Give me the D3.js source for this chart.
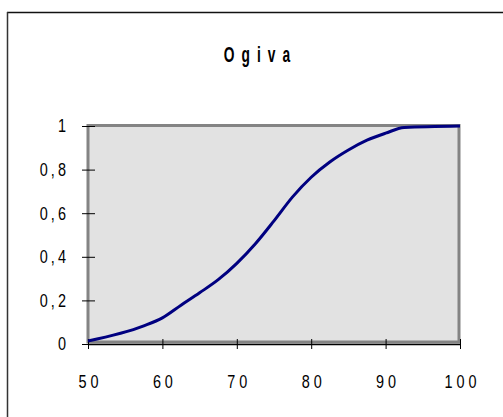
<!DOCTYPE html>
<html>
<head>
<meta charset="utf-8">
<script src="https://cdn.jsdelivr.net/npm/d3@7"></script>
<style>
  body { margin: 0; background: #fff; }
  svg text { font-family: "Liberation Sans", Arial, sans-serif; fill: #000; }
</style>
</head>
<body>
<div id="chart"></div>
<script>
// Chart data (ogive - cumulative relative frequency)
var xValues = [50, 57.5, 60, 62.5, 65, 67.5, 70, 72.5, 75, 77.5, 80, 82.5, 85, 87.5, 90, 92.5, 100];
var yValues = [0.014, 0.083, 0.12, 0.178, 0.235, 0.295, 0.37, 0.46, 0.565, 0.675, 0.765, 0.835, 0.89, 0.935, 0.967, 0.993, 1.0];
var xTicks = [50, 60, 70, 80, 90, 100];
var yTicks = [0, 0.2, 0.4, 0.6, 0.8, 1];
var yTickLabels = ["0", "0,2", "0,4", "0,6", "0,8", "1"];
var chartTitle = "Ogiva";

var svgWidth = 503;
var svgHeight = 417;

// horizontal squeeze for the narrow look of the labels
var labelSqueeze = 0.78;
var titleSqueeze = 0.64;

var svg = d3.select("#chart")
  .append("svg")
  .attr("width", svgWidth)
  .attr("height", svgHeight);

// Outer chart frame (only top and left edges visible)
svg.append("line")
  .attr("x1", 7).attr("y1", 12.5).attr("x2", svgWidth).attr("y2", 12.5)
  .attr("stroke", "#111").attr("stroke-width", 1.5);
svg.append("line")
  .attr("x1", 7.5).attr("y1", 12).attr("x2", 7.5).attr("y2", svgHeight)
  .attr("stroke", "#333").attr("stroke-width", 1.5);

// Scales
var xScale = d3.scaleLinear()
  .domain([50, 100])
  .range([88, 460]);

var yScale = d3.scaleLinear()
  .domain([0, 1])
  .range([344, 126]);

// Plot area
svg.append("rect")
  .attr("x", xScale(50))
  .attr("y", yScale(1) - 0.5)
  .attr("width", xScale(100) - xScale(50) - 1)
  .attr("height", yScale(0) - yScale(1) - 1.5)
  .attr("fill", "#e2e2e2")
  .attr("stroke", "#848484")
  .attr("stroke-width", 3);

// X axis
var bottomAxis = d3.axisBottom(xScale)
  .tickValues(xTicks)
  .tickSize(5)
  .tickSizeOuter(0)
  .tickPadding(26)
  .tickFormat(d3.format("d"));

var xAxis = svg.append("g")
  .attr("transform", `translate(0, ${yScale(0)})`)
  .call(bottomAxis);

xAxis.select(".domain").attr("stroke", "#000").attr("stroke-width", 1.5);
xAxis.selectAll(".tick line")
  .attr("y1", -5)
  .attr("y2", 5)
  .attr("stroke", "#000");
xAxis.selectAll(".tick text")
  .attr("font-size", "18.5px")
  .style("letter-spacing", "5px")
  .attr("x", 2.5)
  .attr("transform", `scale(${labelSqueeze}, 1)`);

// Y axis
var leftAxis = d3.axisLeft(yScale)
  .tickValues(yTicks)
  .tickSize(6)
  .tickSizeOuter(0)
  .tickPadding(16)
  .tickFormat(function(d, i) { return yTickLabels[i]; });

var yAxis = svg.append("g")
  .attr("transform", `translate(${xScale(50)}, 0)`)
  .call(leftAxis);

yAxis.select(".domain").remove();
yAxis.selectAll(".tick line")
  .attr("x1", -6)
  .attr("x2", 7)
  .attr("stroke", "#000");
yAxis.selectAll(".tick text")
  .attr("font-size", "18.5px")
  .style("letter-spacing", "4px")
  .attr("x", (-22 + 4 * labelSqueeze) / labelSqueeze)
  .attr("transform", `scale(${labelSqueeze}, 1)`);

// Ogive line
var line = d3.line()
  .x(function(d, i) { return xScale(xValues[i]); })
  .y(function(d) { return yScale(d); })
  .curve(d3.curveMonotoneX);

svg.append("path")
  .datum(yValues)
  .attr("d", line)
  .attr("fill", "none")
  .attr("stroke", "#000080")
  .attr("stroke-width", 3)
  .attr("stroke-linejoin", "round");

// Title
svg.append("text")
  .attr("x", (255.5 + 5) / titleSqueeze)
  .attr("y", 61.7)
  .attr("text-anchor", "middle")
  .attr("font-size", "21.5px")
  .attr("font-weight", "bold")
  .attr("transform", `scale(${titleSqueeze}, 1)`)
  .style("letter-spacing", "11px")
  .text(chartTitle);
</script>
</body>
</html>
